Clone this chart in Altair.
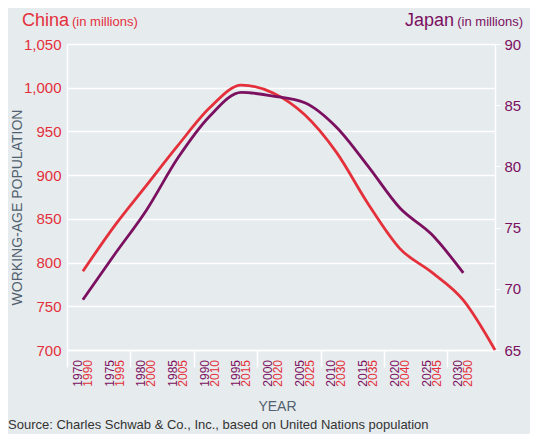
import altair as alt
import pandas as pd

# ---- data ----
china_years = [1990, 1995, 2000, 2005, 2010, 2015, 2020, 2025, 2030, 2035, 2040, 2045, 2050, 2055]
china_vals = [790, 842, 888, 934, 977, 1003, 994, 969, 926, 867, 816, 789, 757, 700]

japan_years = [1970, 1975, 1980, 1985, 1990, 1995, 2000, 2005, 2010, 2015, 2020, 2025, 2030]
japan_vals = [69.1, 72.8, 76.4, 80.7, 84.1, 86.05, 85.75, 85.2, 83.2, 80.0, 76.6, 74.45, 71.3]

japan_labels = ["1970", "1975", "1980", "1985", "1990", "1995", "2000",
                "2005", "2010", "2015", "2020", "2025", "2030"]
china_labels = ["1990", "1995", "2000", "2005", "2010", "2015", "2020",
                "2025", "2030", "2035", "2040", "2045", "2050"]

china_ticks = [700, 750, 800, 850, 900, 950, 1000, 1050]
japan_ticks = [65, 70, 75, 80, 85, 90]
x_ticks = [1967.5, 1972.5, 1977.5, 1982.5, 1987.5, 1992.5, 1997.5,
           2002.5, 2007.5, 2012.5, 2017.5, 2022.5, 2027.5, 2032.5]

RED = "#E4303B"
PURPLE = "#7B1060"
GREY = "#52616E"
BG = "#E6EBEE"
FONT = "Liberation Sans"

# common x position: China is plotted 20 years behind Japan's axis
china_df = pd.DataFrame({"year": china_years, "value": china_vals})
china_df["x"] = china_df["year"] - 20
japan_df = pd.DataFrame({"year": japan_years, "value": japan_vals})
japan_df["x"] = japan_df["year"]

lab_j = pd.DataFrame({"x": japan_years, "label": japan_labels})
lab_c = pd.DataFrame({"x": japan_years, "label": china_labels})

xscale = alt.Scale(domain=[1967.5, 2035], nice=False, zero=False)

x_enc = alt.X("x:Q", scale=xscale,
              axis=alt.Axis(values=x_ticks, labels=False, grid=False,
                            ticks=True, tickColor="white", tickSize=17, tickWidth=1.5,
                            domainColor="white", domainWidth=1.5,
                            title="YEAR", titleColor=GREY, titleFont=FONT,
                            titleFontSize=14, titleFontWeight="normal",
                            titleX=210, titleY=60, titleBaseline="alphabetic"))

china_line = alt.Chart(china_df).mark_line(
    color=RED, strokeWidth=2.8, interpolate="monotone"
).encode(
    x=x_enc,
    y=alt.Y("value:Q",
            scale=alt.Scale(domain=[700, 1050], nice=False, zero=False),
            axis=alt.Axis(orient="left", values=china_ticks,
                          labelExpr="format(datum.value, ',')",
                          labelColor=RED, labelFont=FONT, labelFontSize=15,
                          labelPadding=6, ticks=False,
                          grid=True, gridColor="white", gridWidth=1.5,
                          domainColor="white", domainWidth=1.5,
                          title="WORKING-AGE POPULATION", titleColor=GREY,
                          titleFont=FONT, titleFontSize=14, titleFontWeight="normal",
                          titleAngle=-90, titleX=-46, titleY=163,
                          titleAlign="center", titleBaseline="alphabetic")),
)

japan_line = alt.Chart(japan_df).mark_line(
    color=PURPLE, strokeWidth=2.8, interpolate="monotone"
).encode(
    x=alt.X("x:Q", scale=xscale),
    y=alt.Y("value:Q",
            scale=alt.Scale(domain=[65, 90], nice=False, zero=False),
            axis=alt.Axis(orient="right", values=japan_ticks,
                          labelColor=PURPLE, labelFont=FONT, labelFontSize=15,
                          labelPadding=4, ticks=True, tickColor="white", tickSize=5,
                          grid=False, domainColor="white", domainWidth=1.5,
                          title="", labelBound=False)),
)

jlab = alt.Chart(lab_j).mark_text(
    angle=270, align="right", baseline="middle", dy=-5,
    font=FONT, fontSize=12, color=PURPLE
).encode(x=alt.X("x:Q", scale=xscale), y=alt.value(316), text="label:N")

clab = alt.Chart(lab_c).mark_text(
    angle=270, align="right", baseline="middle", dy=5,
    font=FONT, fontSize=12, color=RED
).encode(x=alt.X("x:Q", scale=xscale), y=alt.value(316), text="label:N")

one = pd.DataFrame({"k": [0]})


def note(text, x, y, size, color, align="left"):
    return alt.Chart(one).mark_text(
        align=align, baseline="alphabetic", font=FONT, fontSize=size, color=color
    ).encode(x=alt.value(x), y=alt.value(y), text=alt.value(text))


notes = [
    note("China", -45, -18, 18, RED),
    note("(in millions)", 5, -18, 13, RED),
    note("Japan", 387, -18, 18, PURPLE, align="right"),
    note("(in millions)", 456, -18, 13, PURPLE, align="right"),
    note("Source: Charles Schwab & Co., Inc., based on United Nations population",
         -59, 385, 13, "#333333"),
]

chart = alt.layer(
    china_line, japan_line, jlab, clab, *notes
).resolve_scale(y="independent").properties(
    width=428, height=306,
    autosize=alt.AutoSizeParams(type="none"),
    padding={"left": 59, "top": 36, "right": 35, "bottom": 84},
    background=BG,
).configure_view(strokeWidth=0, fill=BG)

chart.save("out.html", embed_options={"renderer": "svg", "actions": False})
